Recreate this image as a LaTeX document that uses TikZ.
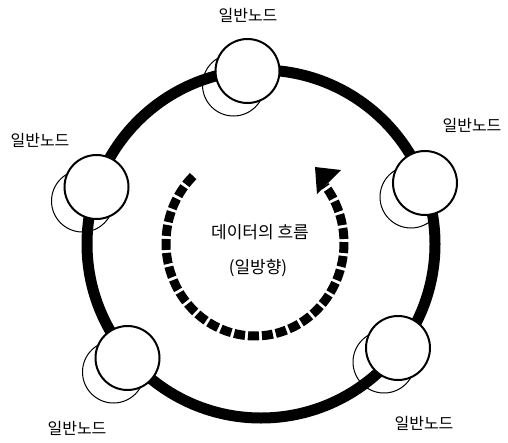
\documentclass[tikz,border=0pt]{standalone}
\usepackage{fontspec}
\newfontfamily\kr{Noto Sans CJK KR}
\begin{document}
\begin{tikzpicture}[x=1pt,y=-1pt,
  shadowc/.style={circle,draw=black,line width=1pt,fill=white,minimum size=62pt,inner sep=0pt},
  nodec/.style={circle,draw=black,line width=2pt,fill=white,minimum size=64pt,inner sep=0pt},
  lbl/.style={font=\kr\fontsize{16}{18}\selectfont,inner sep=0pt},
  ctext/.style={font=\kr\fontsize{17}{20}\selectfont,inner sep=0pt}]
\useasboundingbox (0,0) rectangle (508,442);
% ring center
\coordinate (rc) at (261,244);
% shadows
\node[shadowc] (s1) at (233.5,85) {};
\node[shadowc] (s2) at (411,197) {};
\node[shadowc] (s3) at (384,362) {};
\node[shadowc] (s4) at (113.5,372) {};
\node[shadowc] (s5) at (82.5,201) {};
% ring
\draw[line width=11pt] (rc) circle[radius=174];
% main nodes
\node[nodec] (n1) at (247.5,71) {};
\node[nodec] (n2) at (425,183) {};
\node[nodec] (n3) at (398,348) {};
\node[nodec] (n4) at (127.5,358) {};
\node[nodec] (n5) at (96.5,187) {};
% labels
\node[lbl] (l1) at (248,15) {일반노드};
\node[lbl] (l2) at (472,125) {일반노드};
\node[lbl] (l3) at (424,423) {일반노드};
\node[lbl] (l4) at (77,428) {일반노드};
\node[lbl] (l5) at (40,140) {일반노드};
% center text
\node[ctext] (t1) at (260,232) {데이터의 흐름};
\node[ctext] (t2) at (258,268) {(일방향)};
% dashed flow arc
\coordinate (ac) at (255,243);
\draw[line width=9pt,dash pattern=on 11pt off 3pt]
  ([shift={(-134:89 and 93)}]ac) arc[start angle=-134,end angle=-398,x radius=89,y radius=93];
% arrowhead
\coordinate (h1) at (315,167);
\coordinate (h2) at (341,170);
\coordinate (h3) at (317,194);
\fill (h1) -- (h2) -- (h3) -- cycle;
\end{tikzpicture}
\end{document}
